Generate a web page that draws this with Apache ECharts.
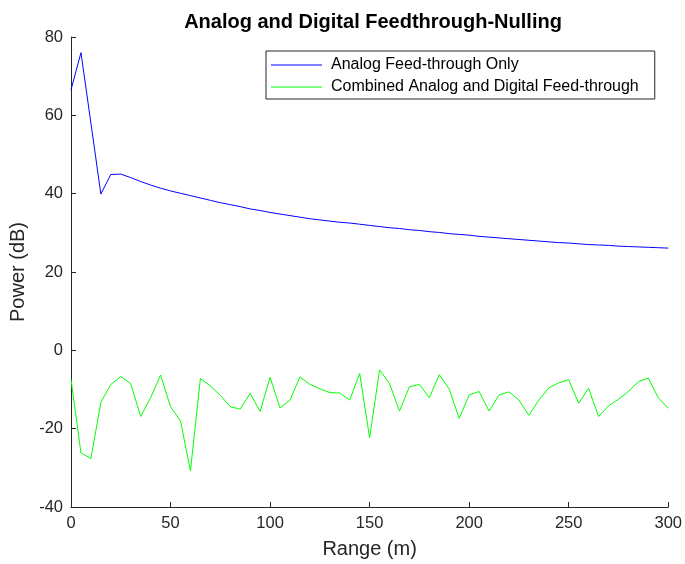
<!DOCTYPE html>
<html>
<head>
<meta charset="utf-8">
<script src="https://cdn.jsdelivr.net/npm/echarts@6/dist/echarts.min.js"></script>
<style>
html, body { margin: 0; padding: 0; background: #fff; }
#chart { width: 685px; height: 564px; }
</style>
</head>
<body>
<div id="chart"></div>
<script>
// range samples (m)
const ranges = [0, 5, 10, 15, 20, 25, 30, 35, 40, 45, 50, 55, 60, 65, 70, 75, 80, 85, 90, 95,
    100, 105, 110, 115, 120, 125, 130, 135, 140, 145, 150, 155, 160, 165, 170, 175, 180, 185, 190, 195,
    200, 205, 210, 215, 220, 225, 230, 235, 240, 245, 250, 255, 260, 265, 270, 275, 280, 285, 290, 295, 300];

// power (dB)
const analogOnly = [66.5, 76.0, 58.0, 39.9, 44.9, 45.0, 44.1, 43.1, 42.2, 41.4, 40.7, 40.1, 39.5, 38.9, 38.3, 37.7, 37.2, 36.7, 36.1, 35.7,
    35.2, 34.8, 34.4, 34.0, 33.6, 33.3, 33.0, 32.7, 32.5, 32.2, 31.9, 31.6, 31.3, 31.1, 30.8, 30.6, 30.3, 30.1, 29.8, 29.6,
    29.4, 29.1, 28.9, 28.7, 28.5, 28.3, 28.1, 27.9, 27.7, 27.5, 27.4, 27.2, 27.0, 26.9, 26.8, 26.6, 26.5, 26.4, 26.3, 26.2, 26.1];

const combined = [-7.4, -26.2, -27.6, -13.3, -8.7, -6.7, -8.5, -16.9, -12.1, -6.3, -14.4, -18.0, -30.8, -7.2, -9.1, -11.5, -14.4, -15.0, -11.0, -15.6,
    -6.9, -14.7, -12.7, -6.8, -8.7, -9.8, -10.8, -10.9, -12.7, -5.9, -22.3, -5.0, -8.5, -15.5, -9.3, -8.7, -12.1, -6.2, -9.9, -17.4,
    -11.4, -10.5, -15.5, -11.4, -10.6, -12.7, -16.6, -12.7, -9.6, -8.3, -7.5, -13.5, -9.7, -16.9, -14.2, -12.5, -10.5, -8.0, -7.1, -12.1, -14.8];

const xTicks = { min: 0, max: 300, step: 50 };
const yTicks = { min: -40, max: 80, step: 20 };

function pairs(ys) {
    return ranges.map((x, i) => [x, ys[i]]);
}

let myChart = echarts.init(document.getElementById('chart'));
let axisColor = '#262626';
let font = 'Liberation Sans, Arial, sans-serif';
let lineIcon = 'path://M0,0 L51,0 L51,1 L0,1 Z';

let option = {
    animation: false,
    textStyle: { fontFamily: font },
    title: {
        text: 'Analog and Digital Feedthrough-Nulling',
        left: 368,
        top: 7,
        textAlign: 'center',
        textStyle: { fontSize: 20, fontWeight: 'bold', color: '#000', fontFamily: font }
    },
    legend: {
        orient: 'vertical',
        left: 266,
        top: 51,
        padding: [6, 16, 4, 5],
        itemWidth: 51,
        itemHeight: 12,
        itemGap: 6,
        borderColor: '#262626',
        borderWidth: 1,
        backgroundColor: '#fff',
        textStyle: { fontSize: 16, color: '#000', fontFamily: font, padding: [0, 0, 0, 4] },
        data: [
            { name: 'Analog Feed-through Only', icon: lineIcon },
            { name: 'Combined Analog and Digital Feed-through', icon: lineIcon }
        ]
    },
    grid: {
        left: 71,
        right: 16,
        top: 37,
        bottom: 56
    },
    xAxis: {
        type: 'value',
        min: xTicks.min,
        max: xTicks.max,
        interval: xTicks.step,
        name: 'Range (m)',
        nameLocation: 'middle',
        nameGap: 32,
        nameTextStyle: { fontSize: 20, color: axisColor, fontFamily: font },
        axisLine: { show: true, onZero: false, lineStyle: { color: axisColor, width: 1 } },
        axisTick: { show: true, inside: true, length: 5, lineStyle: { color: axisColor } },
        axisLabel: { fontSize: 16.5, color: axisColor, margin: 8, fontFamily: font },
        splitLine: { show: false }
    },
    yAxis: {
        type: 'value',
        min: yTicks.min,
        max: yTicks.max,
        interval: yTicks.step,
        name: 'Power (dB)',
        nameLocation: 'middle',
        nameGap: 41,
        nameTextStyle: { fontSize: 20, color: axisColor, fontFamily: font },
        axisLine: { show: true, onZero: false, lineStyle: { color: axisColor, width: 1 } },
        axisTick: { show: true, inside: true, length: 5, lineStyle: { color: axisColor } },
        axisLabel: { fontSize: 16.5, color: axisColor, margin: 8, fontFamily: font },
        splitLine: { show: false }
    },
    series: [
        {
            name: 'Analog Feed-through Only',
            type: 'line',
            symbol: 'none',
            color: '#0000ff',
            lineStyle: { color: '#0000ff', width: 1 },
            data: pairs(analogOnly)
        },
        {
            name: 'Combined Analog and Digital Feed-through',
            type: 'line',
            symbol: 'none',
            color: '#00ff00',
            lineStyle: { color: '#00ff00', width: 1 },
            data: pairs(combined)
        }
    ]
};
myChart.setOption(option);
</script>
</body>
</html>
